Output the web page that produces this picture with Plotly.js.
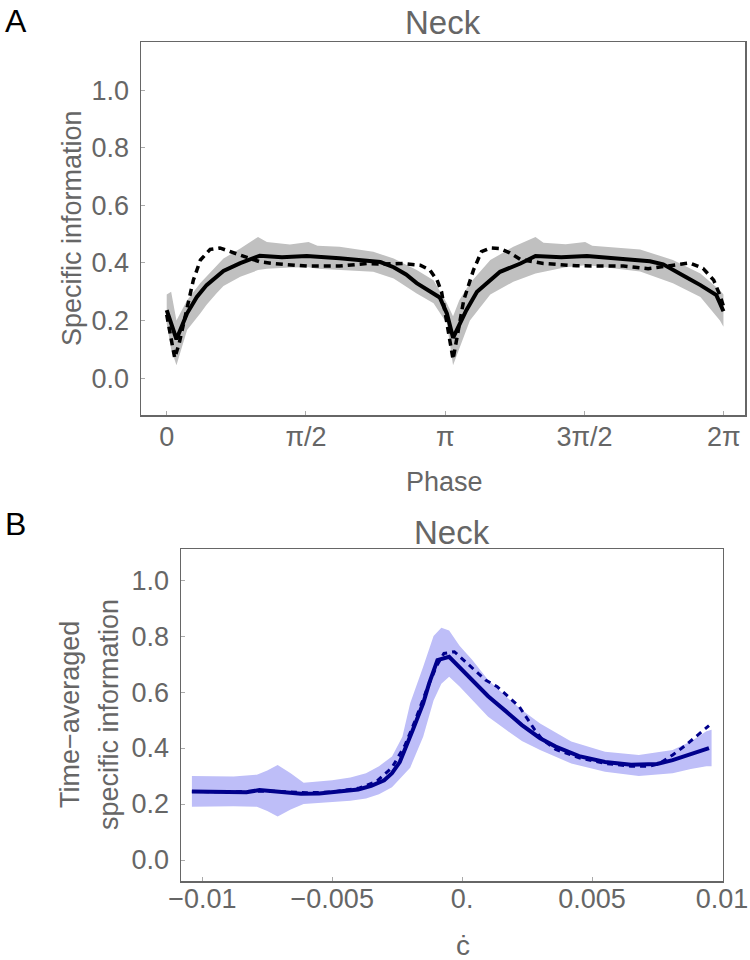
<!DOCTYPE html>
<html>
<head>
<meta charset="utf-8">
<script src="https://cdn.plot.ly/plotly-3.0.1.min.js"></script>
<style>html,body{margin:0;padding:0;background:#fff;}#chart{width:750px;height:960px;}</style>
</head>
<body>
<div id="chart"></div>
<script>
// ---------- Panel A data (phase in radians) ----------
var solidPhaseA = [0, 0.11, 0.23, 0.34, 0.45, 0.64, 0.83, 1.05, 1.3, 1.58, 1.95, 2.2, 2.41, 2.56, 2.7, 2.82, 3.01, 3.08, 3.16, 3.23, 3.38, 3.5, 3.76, 3.99, 4.16, 4.45, 4.74, 5.1, 5.45, 5.6, 5.71, 5.86, 6.02, 6.2, 6.28];
var solidValA   = [0.236, 0.135, 0.225, 0.282, 0.323, 0.372, 0.399, 0.425, 0.42, 0.424, 0.416, 0.41, 0.403, 0.385, 0.36, 0.33, 0.294, 0.28, 0.225, 0.14, 0.236, 0.3, 0.369, 0.398, 0.424, 0.42, 0.424, 0.415, 0.406, 0.395, 0.375, 0.35, 0.323, 0.288, 0.232];

var dashPhaseA = [0, 0.09, 0.14, 0.23, 0.3, 0.38, 0.49, 0.6, 0.71, 0.83, 1.05, 1.2, 1.58, 1.95, 2.26, 2.45, 2.67, 2.86, 2.97, 3.05, 3.1, 3.2, 3.23, 3.35, 3.46, 3.55, 3.65, 3.76, 3.87, 3.99, 4.25, 4.62, 5.15, 5.43, 5.72, 5.9, 6.05, 6.17, 6.24, 6.28];
var dashValA   = [0.22, 0.07, 0.12, 0.248, 0.34, 0.41, 0.447, 0.452, 0.439, 0.427, 0.404, 0.398, 0.389, 0.389, 0.398, 0.396, 0.398, 0.392, 0.375, 0.34, 0.3, 0.12, 0.065, 0.27, 0.375, 0.439, 0.452, 0.45, 0.435, 0.412, 0.398, 0.39, 0.389, 0.38, 0.392, 0.4, 0.381, 0.34, 0.288, 0.25];

var bandPhaseA = [0, 0.05, 0.11, 0.23, 0.38, 0.45, 0.56, 0.64, 0.83, 1.03, 1.13, 1.39, 1.6, 1.7, 1.95, 2.33, 2.56, 2.82, 3.01, 3.16, 3.23, 3.3, 3.42, 3.65, 3.91, 4.16, 4.25, 4.5, 4.72, 4.8, 5.34, 5.71, 6.02, 6.24, 6.28];
var bandUpperA = [0.29, 0.3, 0.2, 0.27, 0.33, 0.352, 0.39, 0.415, 0.45, 0.49, 0.473, 0.464, 0.473, 0.46, 0.456, 0.439, 0.415, 0.375, 0.34, 0.26, 0.215, 0.27, 0.329, 0.41, 0.456, 0.49, 0.47, 0.465, 0.473, 0.46, 0.447, 0.41, 0.363, 0.305, 0.29];
var bandLowerA = [0.19, 0.1, 0.045, 0.167, 0.225, 0.255, 0.294, 0.32, 0.352, 0.375, 0.38, 0.384, 0.385, 0.38, 0.375, 0.369, 0.346, 0.294, 0.26, 0.19, 0.045, 0.1, 0.2, 0.29, 0.335, 0.363, 0.37, 0.385, 0.392, 0.39, 0.37, 0.329, 0.282, 0.2, 0.178];

var tickValsA = [0, Math.PI / 2, Math.PI, 3 * Math.PI / 2, 2 * Math.PI];
var tickTextA = ["0", "\u03c0/2", "\u03c0", "3\u03c0/2", "2\u03c0"];

// ---------- Panel B data (c-dot) ----------
var solidCB   = [-0.0104, -0.0095, -0.0088, -0.0083, -0.0078, -0.0073, -0.0068, -0.0062, -0.0055, -0.005, -0.0045, -0.004, -0.0035, -0.003, -0.0027, -0.0024, -0.0019, -0.0015, -0.00127, -0.00095, -0.0005, -0.00012, 0.0004, 0.001, 0.0017, 0.0023, 0.003, 0.0036, 0.0045, 0.0055, 0.0065, 0.0075, 0.0081, 0.0088, 0.0095];
var solidValB = [0.245, 0.244, 0.241, 0.242, 0.25, 0.247, 0.244, 0.237, 0.238, 0.242, 0.246, 0.252, 0.265, 0.285, 0.31, 0.35, 0.464, 0.56, 0.631, 0.714, 0.726, 0.69, 0.643, 0.585, 0.53, 0.482, 0.435, 0.405, 0.371, 0.35, 0.34, 0.343, 0.357, 0.38, 0.40];

var dashCB   = [-0.0104, -0.009, -0.008, -0.007, -0.006, -0.005, -0.004, -0.0033, -0.0027, -0.0022, -0.0018, -0.0014, -0.001, -0.0007, -0.0003, 0.00014, 0.0009, 0.00135, 0.0018, 0.0022, 0.0025, 0.0028, 0.0031, 0.0036, 0.0045, 0.0055, 0.0065, 0.0072, 0.0076, 0.0081, 0.0086, 0.0091, 0.0095];
var dashValB = [0.245, 0.243, 0.246, 0.245, 0.24, 0.243, 0.256, 0.28, 0.33, 0.41, 0.5, 0.6, 0.69, 0.738, 0.744, 0.708, 0.643, 0.619, 0.583, 0.548, 0.506, 0.464, 0.429, 0.395, 0.365, 0.345, 0.335, 0.335, 0.345, 0.375, 0.41, 0.45, 0.48];

var bandCB     = [-0.0104, -0.0095, -0.0088, -0.0079, -0.0075, -0.0071, -0.0066, -0.0061, -0.0055, -0.005, -0.0043, -0.0037, -0.0032, -0.0027, -0.0023, -0.002, -0.0015, -0.0011, -0.0008, -0.0005, -0.0001, 0.0004, 0.001, 0.0017, 0.0023, 0.003, 0.0042, 0.0055, 0.0068, 0.0081, 0.0088, 0.0094, 0.0096];
var bandUpperB = [0.30, 0.30, 0.298, 0.305, 0.32, 0.339, 0.31, 0.276, 0.28, 0.285, 0.295, 0.31, 0.335, 0.37, 0.44, 0.56, 0.69, 0.8, 0.83, 0.82, 0.765, 0.714, 0.643, 0.583, 0.536, 0.488, 0.423, 0.387, 0.375, 0.393, 0.423, 0.46, 0.465];
var bandLowerB = [0.19, 0.19, 0.192, 0.19, 0.175, 0.155, 0.18, 0.2, 0.205, 0.208, 0.212, 0.22, 0.235, 0.26, 0.3, 0.33, 0.44, 0.57, 0.63, 0.655, 0.62, 0.571, 0.512, 0.464, 0.425, 0.393, 0.345, 0.315, 0.3, 0.31, 0.325, 0.335, 0.335];

var tickValsB = [-0.01, -0.005, 0, 0.005, 0.01];
var tickTextB = ["\u22120.01", "\u22120.005", "0.", "0.005", "0.01"];

var yTickVals = [0, 0.2, 0.4, 0.6, 0.8, 1.0];
var yTickText = ["0.0", "0.2", "0.4", "0.6", "0.8", "1.0"];

// ---------- build polygons for bands ----------
function poly(x, lo, hi) {
  return {
    x: x.concat(x.slice().reverse()),
    y: hi.concat(lo.slice().reverse())
  };
}
var pA = poly(bandPhaseA, bandLowerA, bandUpperA);
var pB = poly(bandCB, bandLowerB, bandUpperB);

var W = 750, H = 960;
function px(v) { return v / W; }
function py(v) { return 1 - v / H; }

var FONT = "Liberation Sans, Arial, sans-serif";
var GREY = "#666666";

var traces = [
  { x: pA.x, y: pA.y, type: "scatter", mode: "lines", fill: "toself", fillcolor: "#c0c0c0", line: { width: 0, color: "rgba(0,0,0,0)" }, xaxis: "x", yaxis: "y", hoverinfo: "skip" },
  { x: solidPhaseA, y: solidValA, type: "scatter", mode: "lines", line: { color: "#000", width: 4 }, xaxis: "x", yaxis: "y" },
  { x: dashPhaseA, y: dashValA, type: "scatter", mode: "lines", line: { color: "#000", width: 3.5, dash: "7px,5px" }, xaxis: "x", yaxis: "y" },
  { x: pB.x, y: pB.y, type: "scatter", mode: "lines", fill: "toself", fillcolor: "#bebef8", line: { width: 0, color: "rgba(0,0,0,0)" }, xaxis: "x2", yaxis: "y2", hoverinfo: "skip" },
  { x: solidCB, y: solidValB, type: "scatter", mode: "lines", line: { color: "#00008c", width: 4 }, xaxis: "x2", yaxis: "y2" },
  { x: dashCB, y: dashValB, type: "scatter", mode: "lines", line: { color: "#00008c", width: 3, dash: "6px,5px" }, xaxis: "x2", yaxis: "y2" }
];

var axisCommon = {
  showgrid: false, zeroline: false, showline: true, mirror: true,
  linecolor: GREY, linewidth: 1.5,
  ticks: "inside", ticklen: 4, tickcolor: "#aaaaaa", tickwidth: 1,
  tickfont: { family: FONT, size: 27, color: GREY },
  fixedrange: true
};
function ax(extra) { return Object.assign({}, axisCommon, extra); }

var layout = {
  width: W, height: H, autosize: false,
  margin: { l: 0, r: 0, t: 0, b: 0 },
  paper_bgcolor: "#fff", plot_bgcolor: "#fff",
  showlegend: false,
  font: { family: FONT, color: GREY },
  xaxis: ax({ domain: [px(141), px(745)], range: [-0.29, 6.523], tickmode: "array", tickvals: tickValsA, ticktext: tickTextA, anchor: "y", ticklabelstandoff: -3 }),
  yaxis: ax({ domain: [py(415), py(42)], range: [-0.128, 1.167], tickmode: "array", tickvals: yTickVals, ticktext: yTickText, anchor: "x", ticklabelstandoff: 5 }),
  xaxis2: ax({ domain: [px(181), px(722.5)], range: [-0.01082, 0.01002], tickmode: "array", tickvals: tickValsB, ticktext: tickTextB, anchor: "y2", ticklabelstandoff: -7 }),
  yaxis2: ax({ domain: [py(881), py(549)], range: [-0.075, 1.111], tickmode: "array", tickvals: yTickVals, ticktext: yTickText, anchor: "x2", ticklabelstandoff: 5 }),
  annotations: [
    { text: "A", x: px(3), y: py(21), xref: "paper", yref: "paper", xanchor: "left", yanchor: "middle", showarrow: false, font: { family: FONT, size: 32, color: "#000" } },
    { text: "B", x: px(3), y: py(524), xref: "paper", yref: "paper", xanchor: "left", yanchor: "middle", showarrow: false, font: { family: FONT, size: 32, color: "#000" } },
    { text: "Neck", x: px(443), y: py(23), xref: "paper", yref: "paper", xanchor: "center", yanchor: "middle", showarrow: false, font: { family: FONT, size: 33, color: GREY } },
    { text: "Neck", x: px(452), y: py(532), xref: "paper", yref: "paper", xanchor: "center", yanchor: "middle", showarrow: false, font: { family: FONT, size: 33, color: GREY } },
    { text: "Phase", x: px(444), y: py(482), xref: "paper", yref: "paper", xanchor: "center", yanchor: "middle", showarrow: false, font: { family: FONT, size: 27, color: GREY } },
    { text: "\u010b", x: px(463), y: py(945), xref: "paper", yref: "paper", xanchor: "center", yanchor: "middle", showarrow: false, font: { family: FONT, size: 28, color: GREY } },
    { text: "Specific information", x: px(72), y: py(228), xref: "paper", yref: "paper", xanchor: "center", yanchor: "middle", textangle: -90, showarrow: false, font: { family: FONT, size: 27, color: GREY } },
    { text: "Time\u2212averaged", x: px(70), y: py(715), xref: "paper", yref: "paper", xanchor: "center", yanchor: "middle", textangle: -90, showarrow: false, font: { family: FONT, size: 27, color: GREY } },
    { text: "specific information", x: px(109), y: py(715), xref: "paper", yref: "paper", xanchor: "center", yanchor: "middle", textangle: -90, showarrow: false, font: { family: FONT, size: 27, color: GREY } }
  ]
};

Plotly.newPlot("chart", traces, layout, { staticPlot: true, displayModeBar: false });
</script>
</body>
</html>
